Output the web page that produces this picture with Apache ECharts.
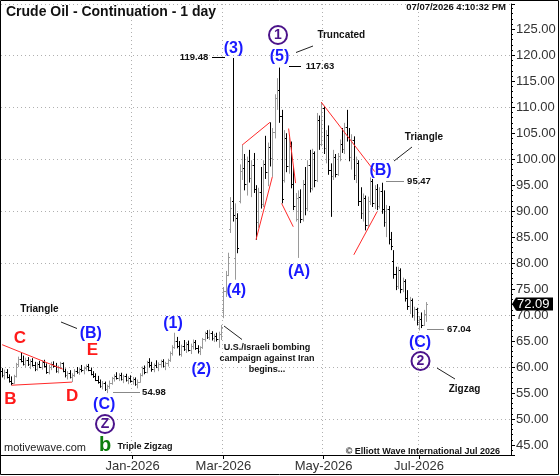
<!DOCTYPE html>
<html>
<head>
<meta charset="utf-8">
<script src="https://cdn.jsdelivr.net/npm/echarts@6/dist/echarts.min.js"></script>
<style>
  html, body { margin: 0; padding: 0; background: #fff; }
  #chart { width: 560px; height: 476px; }
</style>
</head>
<body>
<div id="chart"></div>
<script>
// sessions shown on the axis (weekdays minus exchange holidays)
const firstDay = '2025-10-13';
const lastDay = '2026-08-26';
const holidays = ['2025-11-27', '2025-12-25', '2026-01-01', '2026-01-19', '2026-02-16',
                  '2026-04-03', '2026-05-25', '2026-06-19', '2026-07-03'];
const labelMonths = ['2026-01', '2026-03', '2026-05', '2026-07'];
const monthNames = ['Jan', 'Feb', 'Mar', 'Apr', 'May', 'Jun', 'Jul', 'Aug', 'Sep', 'Oct', 'Nov', 'Dec'];

// daily bars: [open, high, low, close]
const octDec2025 = [
  [59.2,59.8,58.0,58.4],[58.4,59.5,57.6,59.0],[59.0,59.6,57.8,58.1],[58.1,58.6,57.0,57.4],
  [57.4,58.2,56.5,57.0],[57.0,58.5,56.8,58.2],[58.2,60.8,58.0,60.5],[60.5,62.0,60.0,61.6],
  [61.6,62.7,60.9,61.2],[61.2,62.2,60.3,60.6],[60.6,61.8,59.9,61.4],[61.4,61.9,60.2,60.5],
  [60.5,61.5,59.6,61.1],[61.1,61.7,60.1,60.4],[60.4,61.0,59.2,59.6],[59.6,60.9,59.3,60.6],
  [60.6,61.2,59.8,60.1],[60.1,61.3,59.5,60.9],[60.9,61.4,59.9,60.2],[60.2,60.7,58.7,59.0],
  [59.0,60.4,58.6,60.1],[60.1,61.0,59.4,60.6],[60.6,61.1,59.9,60.2],[60.2,60.8,58.9,59.3],
  [59.3,60.3,58.8,60.0],[60.0,61.0,59.6,60.7],[60.7,60.9,59.0,59.3],[59.3,59.7,58.0,58.4],
  [58.4,59.2,57.6,58.9],[58.9,59.4,57.8,58.1],[58.1,58.8,57.1,58.5],[58.5,59.6,58.1,59.3],
  [59.3,60.0,58.7,59.1],[59.1,59.9,58.5,59.7],[59.7,60.4,59.0,59.4],[59.4,60.1,58.6,59.9],
  [59.9,60.5,59.3,60.2],[60.2,60.6,59.2,59.5],[59.5,59.9,58.4,58.7],[58.7,59.2,57.9,58.2],
  [58.2,58.8,57.3,57.6],[57.6,58.3,56.8,57.1],[57.1,57.6,56.0,56.4],[56.4,57.3,55.7,56.9],
  [56.9,57.2,55.4,55.8],[55.8,56.6,54.98,56.3],[56.3,57.4,55.8,57.0],[57.0,58.1,56.6,57.8],
  [57.8,58.6,57.2,58.3],[58.3,59.0,57.6,57.9],[57.9,58.8,57.3,58.5],[58.5,58.9,57.4,57.7],
  [57.7,58.5,56.9,58.2],[58.2,58.7,57.2,57.5],[57.5,58.2,56.7,57.9],[57.9,58.4,57.0,57.3]
];
const janFeb2026 = [
  [57.3,58.1,56.6,57.7],[57.7,58.0,56.4,56.8],[56.8,57.6,55.9,57.2],[57.2,58.8,57.0,58.5],
  [58.5,60.1,58.2,59.8],[59.8,60.3,58.6,59.0],[59.0,61.2,58.8,60.9],[60.9,61.7,59.9,60.3],
  [60.3,61.0,59.1,59.6],[59.6,60.7,59.0,60.4],[60.4,61.3,59.8,60.0],[60.0,60.9,59.2,60.6],
  [60.6,61.4,60.0,61.1],[61.1,61.5,59.9,60.2],[60.2,61.0,59.4,60.7],[60.7,61.6,60.1,61.3],
  [61.3,63.0,61.0,62.7],[62.7,64.2,62.2,63.9],[63.9,66.6,63.5,65.1],[65.1,65.8,63.6,64.0],
  [64.0,65.0,62.2,62.6],[62.6,64.3,62.0,64.0],[64.0,65.2,63.1,63.5],[63.5,64.8,62.7,64.4],
  [64.4,65.1,63.0,63.3],[63.3,64.5,62.5,64.1],[64.1,65.3,63.4,64.9],[64.9,65.2,63.3,63.6],
  [63.6,64.2,62.6,63.0],[63.0,64.0,62.3,63.8],[63.8,65.6,63.5,65.3],[65.3,66.8,64.9,66.5],
  [66.5,67.1,65.4,65.8],[65.8,67.2,65.2,66.6],[66.6,66.9,65.1,65.5],[65.5,66.4,64.8,66.0],
  [66.0,66.6,64.9,65.3],[65.3,66.8,63.7,66.4],[66.4,68.1,65.2,67.8]
];
const marApr2026 = [
  [71.0,75.4,69.4,74.6],[74.6,78.5,73.5,77.8],[77.8,82.0,77.5,81.2],[86.5,92.7,85.8,90.6],
  [92.0,119.48,88.0,89.2],[81.0,91.5,76.8,88.6],[88.6,89.6,81.9,83.0],[92.0,99.0,91.5,97.8],
  [97.8,102.7,96.0,98.4],[98.4,101.0,94.0,95.2],[95.2,100.5,93.0,99.6],[99.6,101.8,95.5,96.3],
  [96.3,99.8,92.7,98.9],[98.9,101.2,93.5,94.2],[94.2,95.0,84.5,88.0],[88.0,94.5,86.8,93.6],
  [93.6,98.5,90.5,91.4],[91.4,99.8,90.8,99.0],[99.0,104.5,96.2,97.5],[97.5,103.2,94.8,102.4],
  [102.4,107.1,98.6,100.2],[100.2,106.0,96.6,105.2],[105.2,112.5,104.0,111.8],[111.8,115.6,109.5,113.4],
  [113.4,117.63,107.0,108.4],[108.4,109.5,91.5,92.4],[96.0,105.6,95.5,104.0],[104.0,105.0,97.5,98.6],
  [98.6,104.2,97.2,102.5],[102.5,103.4,94.4,95.2],[95.2,98.6,90.2,91.0],[91.0,93.5,88.0,92.6],
  [88.5,94.0,81.0,92.8],[92.8,94.2,87.7,88.4],[88.4,96.0,88.0,95.2],[95.2,98.5,89.2,90.6],
  [90.6,99.8,90.0,98.8],[98.8,101.8,93.6,94.5],[94.5,102.0,94.0,101.2],[101.2,101.5,94.6,96.0],
  [96.0,108.9,95.6,107.5],[107.5,108.4,101.8,103.0],[103.0,111.0,102.5,109.8]
];
const mayJul2026 = [
  [109.8,110.2,101.0,102.2],[102.2,105.6,99.2,104.6],[104.6,106.5,97.0,98.0],[98.0,99.2,88.9,96.8],
  [96.8,101.8,96.0,100.5],[100.5,101.0,96.5,97.2],[97.2,101.2,96.8,100.6],[100.6,103.8,99.6,103.0],
  [103.0,106.0,101.2,102.0],[102.0,107.0,101.0,106.2],[106.2,109.5,103.4,104.2],[104.2,106.0,99.6,100.4],
  [100.4,104.8,98.0,103.6],[103.6,104.4,96.0,96.9],[96.9,100.5,95.4,99.2],[99.2,99.8,91.0,92.0],
  [92.0,94.6,88.5,89.6],[89.6,93.4,88.0,92.5],[92.5,93.0,86.3,87.4],[87.4,92.8,87.0,92.0],
  [92.0,96.5,91.2,95.8],[95.8,96.2,90.8,91.6],[91.6,95.0,90.4,94.2],[94.2,95.2,90.2,91.0],
  [91.0,94.6,90.5,93.8],[93.8,95.47,89.5,90.4],[90.4,94.0,87.0,88.0],[88.0,91.2,85.0,90.5],
  [90.5,91.0,83.6,84.6],[84.6,86.0,82.5,83.2],[80.5,82.5,77.0,78.0],[78.0,79.3,74.8,75.6],
  [75.6,79.3,75.0,78.6],[78.6,79.0,74.2,75.0],[75.0,77.2,74.4,76.6],[76.6,76.9,72.6,73.2],
  [73.2,74.8,71.0,71.8],[71.8,73.5,70.2,72.9],[72.9,73.2,69.5,70.0],[70.0,71.6,68.9,71.2],
  [71.2,71.4,68.0,68.6],[68.6,69.8,67.04,69.2],[69.2,70.5,67.5,68.0],[68.0,71.0,67.9,70.2],
  [70.2,72.5,68.7,72.09]
];
const lastPrice = 72.09;

// wave trend lines: [[bar index, price], [bar index, price]]
const trendLines = [
  [[0, 64.3], [26, 59.6]],
  [[4, 56.5], [30, 57.1]],
  [[103, 102.7], [115, 107.1]],
  [[109, 84.5], [116, 96.6]],
  [[120, 91.5], [125, 87.0]],
  [[123, 105.9], [126, 95.4]],
  [[137, 111.0], [160, 97.6]],
  [[151, 81.6], [161, 89.9]]
];

// value axis range
const yMin = 43.07;
const yMax = 129.87;

const FONT = '"Liberation Sans", Arial, sans-serif';

function ymd(d) { return d.toISOString().slice(0, 10); }

const dates = [];
for (let t = Date.parse(firstDay + 'T00:00:00Z'); t <= Date.parse(lastDay + 'T00:00:00Z'); t += 86400000) {
  const d = new Date(t);
  const wd = d.getUTCDay();
  if (wd === 0 || wd === 6) continue;
  if (holidays.indexOf(ymd(d)) >= 0) continue;
  dates.push(ymd(d));
}

const labelIdx = {};
dates.forEach(function (s, i) {
  const m = s.slice(0, 7);
  if (labelMonths.indexOf(m) >= 0 && (i === 0 || dates[i - 1].slice(0, 7) !== m)) labelIdx[i] = true;
});
function isLabelDay(i) { return !!labelIdx[i]; }

const bars = [].concat(octDec2025, janFeb2026, marApr2026, mayJul2026)
  .map(function (b, i) { return [i, b[0], b[1], b[2], b[3]]; });

function renderBar(params, api) {
  const i = api.value(0);
  const o = api.value(1), c = api.value(4);
  const ph = api.coord([i, api.value(2)]);
  const pl = api.coord([i, api.value(3)]);
  const po = api.coord([i, o]);
  const pc = api.coord([i, c]);
  const x = Math.round(ph[0]) + 0.5;
  const color = c < o ? '#000000' : '#9a9a9a';
  const st = { stroke: color, lineWidth: 1 };
  return {
    type: 'group',
    children: [
      { type: 'line', shape: { x1: x, y1: ph[1], x2: x, y2: pl[1] }, style: st },
      { type: 'line', shape: { x1: x - 1.5, y1: Math.round(po[1]) + 0.5, x2: x, y2: Math.round(po[1]) + 0.5 }, style: st },
      { type: 'line', shape: { x1: x, y1: Math.round(pc[1]) + 0.5, x2: x + 1.5, y2: Math.round(pc[1]) + 0.5 }, style: st }
    ]
  };
}

function txt(x, y, text, font, fill, align, z) {
  return { type: 'text', z: z || 20, x: x, y: y,
    style: { text: text, font: font, fill: fill, align: align || 'center', verticalAlign: 'middle' } };
}
function seg(x1, y1, x2, y2, color) {
  return { type: 'line', z: 20, shape: { x1: x1, y1: y1, x2: x2, y2: y2 },
    style: { stroke: color || '#222', lineWidth: 1 } };
}
function circled(cx, cy, ch) {
  return [
    { type: 'circle', z: 20, shape: { cx: cx, cy: cy, r: 9 },
      style: { fill: 'rgba(0,0,0,0)', stroke: '#4b138a', lineWidth: 2 } },
    txt(cx, cy + 0.5, ch, 'bold 14px ' + FONT, '#4b138a')
  ];
}

const BLUE = '#1a1aff';
const RED = '#ff1a1a';
const waveFont = 'bold 16px ' + FONT;
const redFont = 'bold 17px ' + FONT;
const noteFont = 'bold 10px ' + FONT;
const smallFont = 'bold 9px ' + FONT;
const priceFont = 'bold 9.5px ' + FONT;

const graphics = [
  { type: 'rect', z: 30, shape: { x: 0.5, y: 0.5, width: 558, height: 474 },
    style: { fill: 'rgba(0,0,0,0)', stroke: '#000', lineWidth: 1 } },
  txt(6, 12.5, 'Crude Oil - Continuation - 1 day', 'bold 14px ' + FONT, '#111', 'left'),
  txt(506, 7.5, '07/07/2026 4:10:32 PM', 'bold 9.5px ' + FONT, '#111', 'right'),
  txt(4, 448, 'motivewave.com', '11px ' + FONT, '#222', 'left'),
  txt(500, 451.5, '\u00a9 Elliott Wave International Jul 2026', smallFont, '#111', 'right'),

  txt(233.5, 48.5, '(3)', waveFont, BLUE),
  txt(279.5, 56.7, '(5)', waveFont, BLUE),
  txt(236.2, 290.5, '(4)', waveFont, BLUE),
  txt(299, 271.5, '(A)', waveFont, BLUE),
  txt(380.5, 170.3, '(B)', waveFont, BLUE),
  txt(420, 343, '(C)', waveFont, BLUE),
  txt(173, 323.3, '(1)', waveFont, BLUE),
  txt(201.3, 369.2, '(2)', waveFont, BLUE),
  txt(90.8, 333.3, '(B)', waveFont, BLUE),
  txt(104.2, 404.7, '(C)', waveFont, BLUE),

  txt(20, 338.3, 'C', redFont, RED),
  txt(92.3, 350.3, 'E', redFont, RED),
  txt(10.5, 399.3, 'B', redFont, RED),
  txt(72.2, 396.7, 'D', redFont, RED),

  txt(105, 445, 'b', 'bold 20px ' + FONT, '#0d7d0d'),

  txt(39.5, 309, 'Triangle', noteFont, '#111'),
  txt(424, 137, 'Triangle', noteFont, '#111'),
  txt(341.3, 35, 'Truncated', noteFont, '#111'),
  txt(464.5, 389, 'Zigzag', noteFont, '#111'),
  txt(145, 447, 'Triple Zigzag', smallFont, '#111'),
  txt(267, 348, 'U.S./Israeli bombing', smallFont, '#111'),
  txt(267, 359, 'campaign against Iran', smallFont, '#111'),
  txt(267, 370, 'begins...', smallFont, '#111'),

  txt(194, 57, '119.48', priceFont, '#111'),
  txt(320, 66, '117.63', priceFont, '#111'),
  txt(419, 181, '95.47', priceFont, '#111'),
  txt(459, 329.5, '67.04', priceFont, '#111'),
  txt(154, 392.5, '54.98', priceFont, '#111'),

  seg(61, 322, 77, 328.5),
  seg(394, 161, 412, 147),
  seg(296, 52.5, 313, 46),
  seg(437, 368, 455, 379),
  seg(224, 326, 242, 339.5),
  seg(212, 57.5, 225, 57.5, '#000'),
  seg(289, 66.5, 301, 66.5, '#000'),
  seg(386, 181.5, 404, 181.5, '#888'),
  seg(427, 329.5, 444, 329.5, '#888'),
  seg(113, 392.5, 140, 392.5, '#888')
].concat(circled(278, 35, '1'), circled(420.5, 361, '2'), circled(105, 424, 'Z'));

const dotted = { color: '#b0b0b0', width: 1, type: [1, 3] };

const chart = echarts.init(document.getElementById('chart'), null, { renderer: 'canvas' });
chart.setOption({
  animation: false,
  backgroundColor: '#fff',
  textStyle: { fontFamily: FONT },
  grid: { left: 1, right: 49, top: 4, bottom: 21 },
  xAxis: {
    type: 'category',
    data: dates,
    boundaryGap: true,
    axisLine: { lineStyle: { color: '#000', width: 1 } },
    axisTick: { show: true, interval: isLabelDay, alignWithLabel: true, length: 4, lineStyle: { color: '#000' } },
    axisLabel: {
      interval: isLabelDay, color: '#333', fontSize: 13, margin: 5, fontFamily: FONT,
      formatter: function (v) { return monthNames[+v.slice(5, 7) - 1] + '-' + v.slice(0, 4); }
    },
    splitLine: { show: true, interval: isLabelDay, lineStyle: dotted }
  },
  yAxis: [{
    type: 'value',
    position: 'right',
    min: yMin,
    max: yMax,
    splitNumber: 17,
    axisLine: { show: true, lineStyle: { color: '#000' } },
    axisTick: { show: true, length: 4, lineStyle: { color: '#000' } },
    minorTick: { show: true, splitNumber: 5, length: 2, lineStyle: { color: '#000' } },
    axisLabel: {
      color: '#333', fontSize: 13, margin: 5, fontFamily: FONT,
      showMinLabel: false, showMaxLabel: false,
      formatter: function (v) {
        if (Math.abs(v - Math.round(v / 5) * 5) > 1e-6 || v > 126) return '';
        return v.toFixed(2);
      }
    },
    splitLine: { show: false }
  }, {
    type: 'value',
    position: 'right',
    min: yMin,
    max: yMax,
    splitNumber: 9,
    axisLine: { show: false },
    axisTick: { show: false },
    axisLabel: { show: false },
    splitLine: { show: true, lineStyle: dotted }
  }],
  series: [{
    type: 'custom',
    name: 'Crude Oil',
    renderItem: renderBar,
    data: bars,
    encode: { x: 0, y: [1, 2, 3, 4] },
    clip: true,
    z: 3
  }].concat(trendLines.map(function (pts) {
    return {
      type: 'line', data: pts, symbol: 'none', silent: true, z: 4,
      lineStyle: { color: '#ff2a2a', width: 1 }
    };
  })),
  graphic: graphics
});

// last price tag on the price axis
const tagY = Math.round(chart.convertToPixel({ yAxisIndex: 0 }, lastPrice));
const axisX = 511;
chart.setOption({
  graphic: graphics.concat([
    { type: 'polygon', z: 25,
      shape: { points: [[axisX + 1, tagY], [axisX + 5, tagY - 6.5], [axisX + 42, tagY - 6.5], [axisX + 42, tagY + 6.5], [axisX + 5, tagY + 6.5]] },
      style: { fill: '#000' } },
    txt(axisX + 6, tagY + 0.5, lastPrice.toFixed(2), '13px ' + FONT, '#fff', 'left', 26)
  ])
});
</script>
</body>
</html>
